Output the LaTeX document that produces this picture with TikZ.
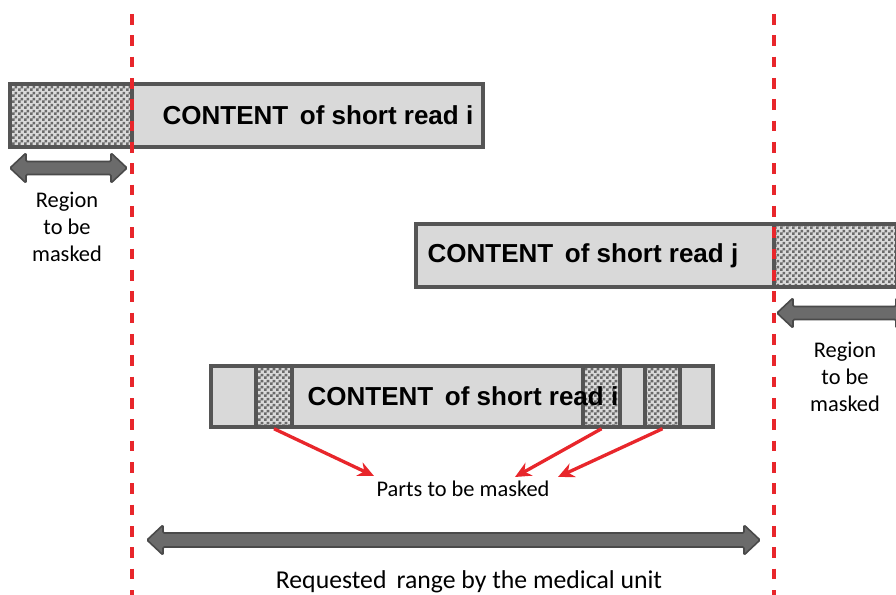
\documentclass[tikz,border=0pt]{standalone}
\usepackage{fontspec}
\setmainfont{Carlito}
\newfontfamily\boxfont{Liberation Sans}
\usetikzlibrary{fit,arrows.meta,patterns}

% fine checkerboard used for the masked parts of a read
\pgfdeclarepatternformonly{finecheck}{\pgfpointorigin}{\pgfqpoint{4.5pt}{4.5pt}}{\pgfqpoint{4.5pt}{4.5pt}}{%
  \pgfpathrectangle{\pgfpointorigin}{\pgfqpoint{2.25pt}{2.25pt}}%
  \pgfpathrectangle{\pgfqpoint{2.25pt}{2.25pt}}{\pgfqpoint{2.25pt}{2.25pt}}%
  \pgfusepath{fill}}

\definecolor{boxgrey}{HTML}{D9D9D9}
\definecolor{edgegrey}{HTML}{555555}
\definecolor{checkdark}{HTML}{6A6A6A}
\definecolor{checklight}{HTML}{DADADA}
\definecolor{arrowgrey}{HTML}{6B6B6B}
\definecolor{arrowedge}{HTML}{4A4A4A}
\definecolor{cutred}{HTML}{E8262B}

\begin{document}
\begin{tikzpicture}[x=0.75pt,y=-0.75pt,
  readbox/.style={draw=edgegrey, line width=2.6pt, fill=boxgrey, inner sep=0pt},
  maskbox/.style={preaction={fill=checklight}, pattern=finecheck, pattern color=checkdark,
                  draw=edgegrey, line width=2.6pt, inner sep=0pt},
  readtext/.style={font=\boxfont\bfseries\fontsize{19.5}{22}\selectfont, text=black},
  note/.style={font=\fontsize{16.8}{20.25}\selectfont, align=center, text=black},
  cutline/.style={draw=cutred, line width=2.5pt, dash pattern=on 8pt off 8pt},
  pointer/.style={draw=cutred, line width=2.5pt, -{Stealth[length=12pt,width=11pt]}},
  blockarrow/.style={fill=arrowgrey, draw=arrowedge, line width=1.2pt, rounded corners=1pt},
]
\useasboundingbox (0,0) rectangle (896,595);

% boundaries of the requested range
\coordinate (cutL top) at (132,14);
\coordinate (cutL bot) at (132,595);
\coordinate (cutR top) at (774,14);
\coordinate (cutR bot) at (774,595);

% short read i (top)
\node[readbox, fit={(10,84) (483,147)}] (readA) {};
\node[maskbox, fit={(10,84) (132,147)}] (maskA) {};
\node[readtext] (textA) at (318,115) {CONTENT\, of short read i};

% short read j
\node[readbox, fit={(416,224) (897,287)}] (readB) {};
\node[maskbox, fit={(774,224) (897,287)}] (maskB) {};
\node[readtext] (textB) at (583,256) {CONTENT\, of short read j};

% short read i (with inner masked parts)
\node[readbox, fit={(211,366) (713,427)}] (readC) {};
\node[maskbox, fit={(256,366) (292,427)}] (maskC1) {};
\node[maskbox, fit={(583,366) (620,427)}] (maskC2) {};
\node[maskbox, fit={(645,366) (680,427)}] (maskC3) {};
\node[readtext] (textC) at (463,396) {CONTENT\, of short read i};

% dashed range limits drawn over the boxes
\draw[cutline] (cutL top) -- (cutL bot);
\draw[cutline] (cutR top) -- (cutR bot);

% grey double arrows
\draw[blockarrow] (10,168) -- (26,153) -- (26,161.5) -- (111,161.5) -- (111,153)
  -- (127,168) -- (111,183) -- (111,174.5) -- (26,174.5) -- (26,183) -- cycle;
\draw[blockarrow] (777,313) -- (793,298) -- (793,306.5) -- (896,306.5) -- (896,298)
  -- (912,313) -- (896,328) -- (896,319.5) -- (793,319.5) -- (793,328) -- cycle;
\draw[blockarrow] (147,540) -- (163,525) -- (163,533) -- (744,533) -- (744,525)
  -- (760,540) -- (744,555) -- (744,547) -- (163,547) -- (163,555) -- cycle;

% labels
\node[note] (regionL) at (67,227) {Region\\to be\\masked};
\node[note] (regionR) at (845,377) {Region\\to be\\masked};
\node[note] (parts) at (463,489) {Parts to be masked};
\node[font=\fontsize{19.3}{23}\selectfont, text=black] (range) at (469,582)
  {Requested\, range by the medical unit};

% red pointers to the masked parts
\coordinate (tip1) at (374,476);
\coordinate (tip2) at (515,477);
\coordinate (tip3) at (558,477);
\draw[pointer] (maskC1.south) -- (tip1);
\draw[pointer] (maskC2.south) -- (tip2);
\draw[pointer] (maskC3.south) -- (tip3);
\end{tikzpicture}
\end{document}
